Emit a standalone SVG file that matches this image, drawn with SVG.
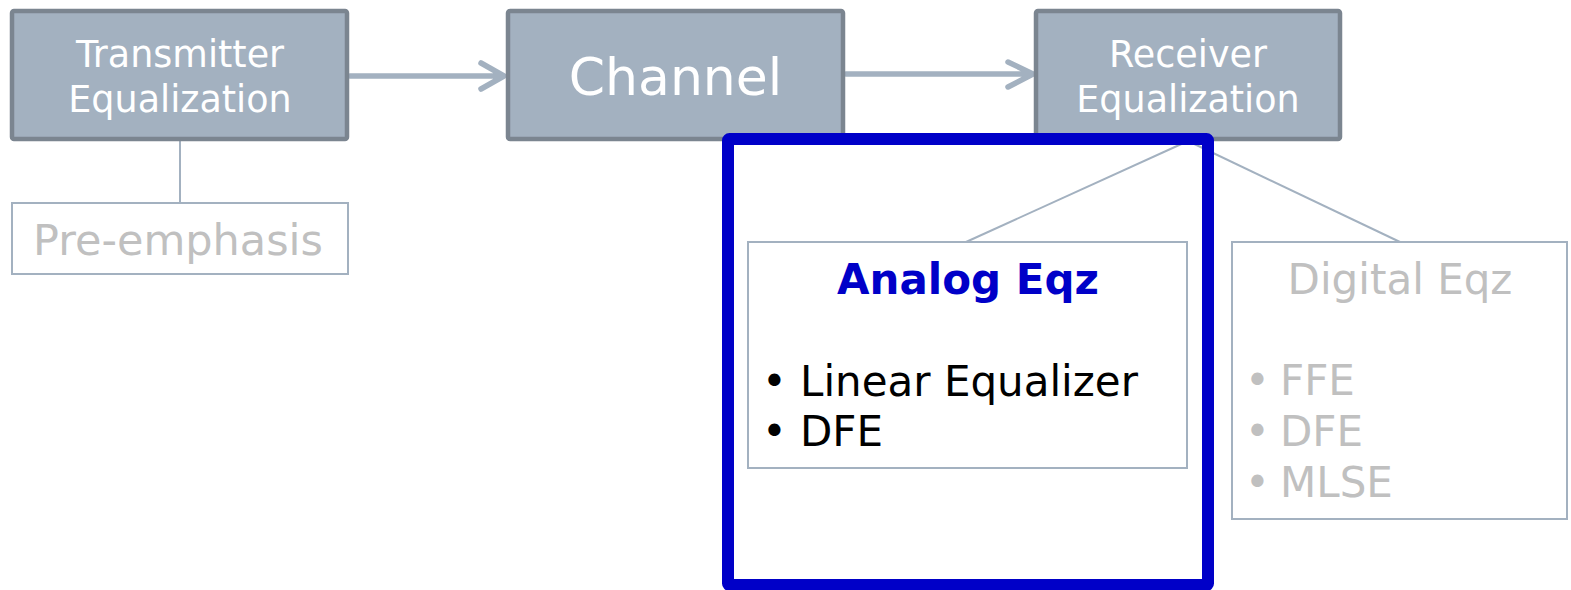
<svg xmlns="http://www.w3.org/2000/svg" width="1571" height="590" viewBox="0 0 1571 590">
  <defs>
    <style>
      text { font-family: "DejaVu Sans", Verdana, sans-serif; }
      .block { fill: #a3b1c0; stroke: #7b8590; stroke-width: 4.5; }
      .block-label { fill: #ffffff; font-size: 36.5px; text-anchor: middle; }
      .panel { fill: #ffffff; stroke: #a3b1c0; stroke-width: 2; }
      .link { stroke: #a3b1c0; stroke-width: 2; fill: none; }
      .flow { stroke: #a3b1c0; stroke-width: 5.5; fill: none; stroke-linecap: round; stroke-linejoin: round; }
      .muted { fill: #c0c0c0; font-size: 42px; }
      .item { fill: #000000; font-size: 42px; }
      .focus { fill: none; stroke: #0000c8; stroke-width: 12; }
    </style>
  </defs>

  <!-- tree links under the blocks -->
  <g id="connectors">
    <line class="link" x1="180" y1="141" x2="180" y2="203"/>
    <line class="link" x1="1188" y1="141" x2="966" y2="242"/>
    <line class="link" x1="1188" y1="141" x2="1400" y2="242"/>
    <!-- signal flow arrows -->
    <path class="flow" d="M350 76 H503 M481 63 L504 76 L481 89"/>
    <path class="flow" d="M846 74 H1032 M1008 62 L1033 74 L1008 87"/>
  </g>

  <g id="tx-eq">
    <rect class="block" x="12" y="11" width="335" height="128" rx="2"/>
    <text class="block-label" x="180" y="67">Transmitter</text>
    <text class="block-label" x="180" y="112">Equalization</text>
  </g>

  <g id="channel">
    <rect class="block" x="508" y="11" width="335" height="128" rx="2"/>
    <text class="block-label" x="675.5" y="95" style="font-size:52px">Channel</text>
  </g>

  <g id="rx-eq">
    <rect class="block" x="1036" y="11" width="304" height="128" rx="2"/>
    <text class="block-label" x="1188" y="67">Receiver</text>
    <text class="block-label" x="1188" y="112">Equalization</text>
  </g>

  <g id="pre-emphasis">
    <rect class="panel" x="12" y="203" width="336" height="71"/>
    <text class="muted" x="178" y="255" text-anchor="middle" style="font-size:43px">Pre-emphasis</text>
  </g>

  <g id="analog-eqz">
    <rect class="panel" x="748" y="242" width="439" height="226"/>
    <text x="968" y="294" text-anchor="middle" style="font-size:42px;font-weight:bold;fill:#0000c8">Analog Eqz</text>
    <text class="item" x="762" y="396">•</text>
    <text class="item" x="800" y="396">Linear Equalizer</text>
    <text class="item" x="762" y="446">•</text>
    <text class="item" x="800" y="446">DFE</text>
  </g>

  <g id="digital-eqz">
    <rect class="panel" x="1232" y="242" width="335" height="277"/>
    <text class="muted" x="1400" y="294" text-anchor="middle">Digital Eqz</text>
    <text class="muted" x="1245" y="395">•</text>
    <text class="muted" x="1280" y="395">FFE</text>
    <text class="muted" x="1245" y="446">•</text>
    <text class="muted" x="1280" y="446">DFE</text>
    <text class="muted" x="1245" y="497">•</text>
    <text class="muted" x="1280" y="497">MLSE</text>
  </g>

  <!-- highlight frame around the analog path -->
  <g id="highlight">
    <rect class="focus" x="728" y="139" width="480" height="446" rx="1.5"/>
  </g>
</svg>
